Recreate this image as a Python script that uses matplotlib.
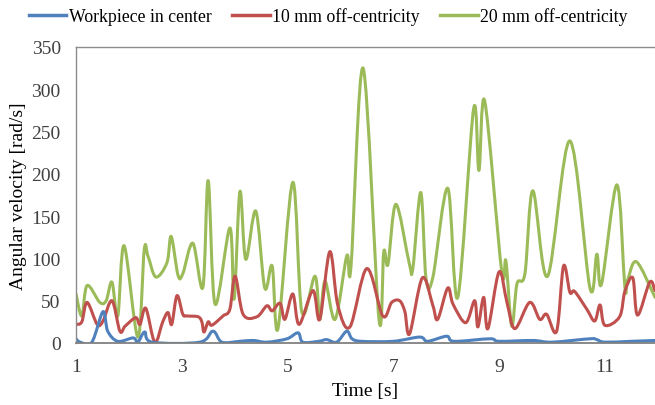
import numpy as np
import matplotlib
matplotlib.use("Agg")
import matplotlib.pyplot as plt
from matplotlib.path import Path
from matplotlib.patches import PathPatch
from matplotlib.lines import Line2D

# data (time [s], angular velocity [rad/s])
t_center = [1.00, 1.08, 1.30, 1.51, 1.60, 1.79, 2.08, 2.17, 2.30, 2.44, 3.34, 3.59, 3.76,
            4.10, 4.35, 4.61, 4.99, 5.20, 5.29, 5.59, 5.74, 5.93, 6.12, 6.22, 6.40, 7.00,
            7.50, 7.65, 8.01, 8.15, 8.83, 9.00, 9.64, 10.00, 10.72, 10.85, 11.00, 11.50, 11.95]
w_center = [5, 1, 1, 37, 14, 2, 6, 1, 13, 1, 1, 14, 1,
            2, 3, 1, 5, 12, 1, 2, 4, 1, 14, 5, 2, 2,
            7, 2, 8, 2, 5, 2, 3, 1, 5, 4, 1, 2, 3]

t_10mm = [1.00, 1.11, 1.21, 1.40, 1.51, 1.68, 1.83, 1.93, 2.13, 2.21, 2.32, 2.49, 2.64, 2.74,
          2.81, 2.91, 3.02, 3.10, 3.31, 3.38, 3.42, 3.50, 3.57, 3.78, 3.91, 4.01, 4.16, 4.42,
          4.61, 4.71, 4.86, 4.95, 5.10, 5.22, 5.48, 5.61, 5.80, 5.95, 6.18, 6.50, 6.80, 6.97,
          7.12, 7.22, 7.31, 7.55, 7.75, 7.84, 8.03, 8.13, 8.37, 8.54, 8.60, 8.71, 8.79, 9.00,
          9.15, 9.30, 9.58, 9.77, 9.90, 10.09, 10.22, 10.34, 10.43, 10.66, 10.81, 10.91, 11.00,
          11.28, 11.38, 11.53, 11.62, 11.85, 11.95]
w_10mm = [22, 25, 48, 22, 26, 50, 14, 20, 30, 22, 41, 1, 25, 36,
          22, 56, 34, 32, 31, 25, 13, 25, 21, 32, 40, 79, 34, 31,
          44, 38, 47, 28, 58, 22, 62, 28, 108, 45, 19, 88, 32, 48,
          50, 37, 11, 77, 44, 28, 65, 46, 24, 50, 19, 54, 17, 84,
          48, 17, 48, 28, 34, 14, 91, 60, 61, 40, 26, 45, 21,
          31, 61, 77, 33, 72, 62]

t_20mm = [1.00, 1.11, 1.21, 1.45, 1.57, 1.68, 1.79, 1.91, 2.17, 2.29, 2.36, 2.51, 2.72, 2.80,
          2.93, 3.02, 3.21, 3.40, 3.50, 3.63, 3.91, 3.99, 4.10, 4.21, 4.40, 4.57, 4.71, 4.82,
          5.10, 5.27, 5.52, 5.61, 5.71, 5.90, 6.12, 6.20, 6.43, 6.73, 6.82, 6.90, 7.05, 7.30,
          7.37, 7.52, 7.62, 7.75, 8.03, 8.22, 8.52, 8.62, 8.73, 9.05, 9.13, 9.24, 9.34, 9.49,
          9.64, 9.92, 10.34, 10.72, 10.85, 10.94, 11.23, 11.38, 11.43, 11.60, 11.95]
w_20mm = [58, 32, 68, 48, 50, 72, 32, 115, 7, 110, 103, 78, 95, 126,
          80, 82, 118, 66, 192, 46, 136, 52, 179, 99, 156, 65, 91, 17,
          190, 37, 79, 28, 73, 28, 103, 90, 325, 28, 108, 93, 164, 95,
          88, 178, 76, 78, 183, 54, 277, 204, 286, 85, 97, 20, 70, 82,
          180, 79, 239, 65, 105, 70, 187, 66, 74, 96, 54]

labels = ["Workpiece in center", "10 mm off-centricity", "20 mm off-centricity"]
colors = ["#4F81BD", "#C0504D", "#9BBB59"]
x_ticks = [1, 3, 5, 7, 9, 11]
y_ticks = [0, 50, 100, 150, 200, 250, 300, 350]


def smooth_path(x, y):
    # Excel-like smoothed line: cubic bezier segments through every point
    p = np.column_stack([x, y]).astype(float)
    n = len(p)
    verts = [p[0]]
    codes = [Path.MOVETO]
    for i in range(n - 1):
        p0 = p[i - 1] if i > 0 else p[i]
        p3 = p[i + 2] if i + 2 < n else p[i + 1]
        c1 = p[i] + (p[i + 1] - p0) / 6.0
        c2 = p[i + 1] - (p3 - p[i]) / 6.0
        verts += [c1, c2, p[i + 1]]
        codes += [Path.CURVE4] * 3
    return Path(verts, codes)


plt.rcParams['font.family'] = ['Liberation Serif', 'DejaVu Serif']

fig = plt.figure(figsize=(6.55, 4.06), dpi=100)
ax = fig.add_axes([76 / 655, 1 - 344 / 406, 1 - 76 / 655, (344 - 48) / 406])

series = [(t_center, w_center), (t_10mm, w_10mm), (t_20mm, w_20mm)]
# green first so red and blue sit on top, as in the original
for (t, w), c in reversed(list(zip(series, colors))):
    ax.add_patch(PathPatch(smooth_path(t, w), facecolor="none", edgecolor=c,
                           lw=2.2, capstyle="round", joinstyle="round"))

ax.set_xlim(1, 11.95)
ax.set_ylim(0, 350)
ax.set_xticks(x_ticks)
ax.set_yticks(y_ticks)
ax.tick_params(length=0, labelsize=14, colors="#404040")
ax.tick_params(axis="x", pad=11)
ax.tick_params(axis="y", pad=11)

for s in ["left", "top"]:
    ax.spines[s].set_color("#8c8c8c")
    ax.spines[s].set_linewidth(1.0)
ax.spines["bottom"].set_color("#808080")
ax.spines["bottom"].set_linewidth(1.3)
ax.spines["right"].set_visible(False)

ax.set_xlabel("Time [s]", fontsize=14, labelpad=5)
ax.set_ylabel("Angular velocity [rad/s]", fontsize=14, labelpad=3)

handles = [Line2D([0], [0], color=c, lw=2.5) for c in colors]
fig.legend(handles, labels, loc="upper left", bbox_to_anchor=(0.02, 1.02), ncol=3,
           frameon=False, fontsize=12.8, handlelength=2.1, handletextpad=0.15,
           columnspacing=1.15)

plt.savefig("out.png", dpi=100)
